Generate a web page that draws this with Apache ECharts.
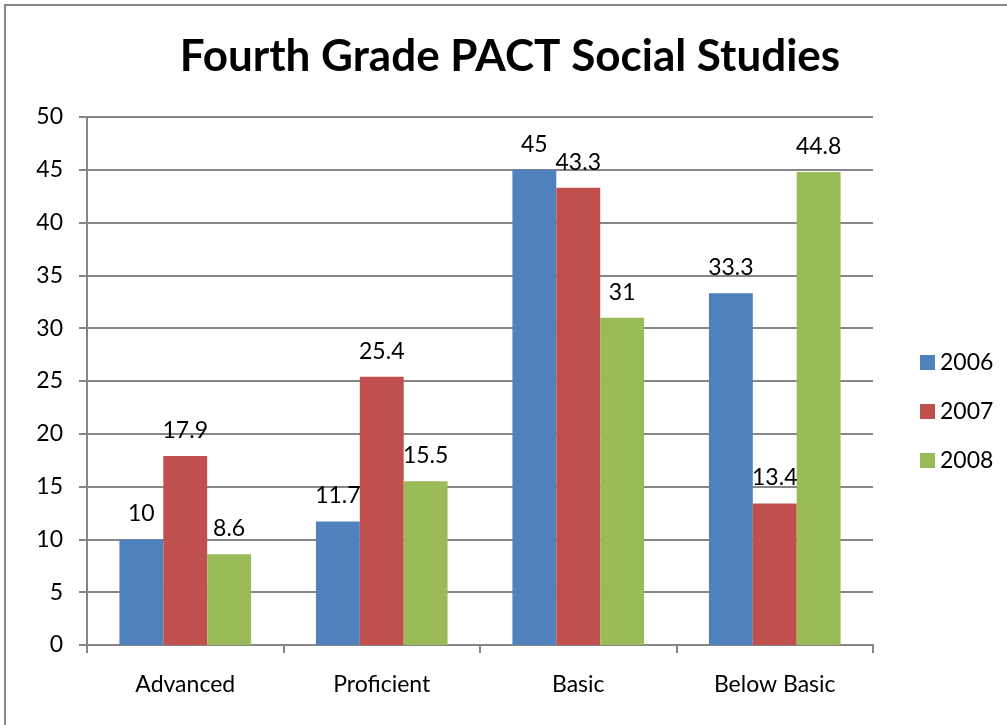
<!DOCTYPE html>
<html>
<head>
<meta charset="utf-8">
<script src="https://cdn.jsdelivr.net/npm/echarts@6/dist/echarts.min.js"></script>
<style>
  html, body { margin: 0; padding: 0; background: #fff; }
  #chart { width: 1007px; height: 725px; }
</style>
</head>
<body>
<div id="chart"></div>
<script>
// data
var categories = ['Advanced', 'Proficient', 'Basic', 'Below Basic'];
var years = ['2006', '2007', '2008'];
var values2006 = [10, 11.7, 45, 33.3];
var values2007 = [17.9, 25.4, 43.3, 13.4];
var values2008 = [8.6, 15.5, 31, 44.8];
var colors = ['#4F81BD', '#C0504D', '#9BBB59'];

var font = 'Lato, "Open Sans", sans-serif';

function barSeries(name, data, color) {
  return {
    name: name,
    type: 'bar',
    data: data,
    barGap: '0%',
    barCategoryGap: '33%',
    itemStyle: { color: color },
    label: {
      show: true,
      position: 'top',
      distance: 14,
      color: '#000',
      fontSize: 23,
      fontFamily: font
    }
  };
}

var chart = echarts.init(document.getElementById('chart'));
var option = {
  animation: false,
  backgroundColor: '#fff',
  color: colors,
  graphic: [{
    type: 'rect',
    shape: { x: 5, y: 5, width: 1020, height: 740 },
    style: { fill: 'none', stroke: '#888', lineWidth: 2 },
    silent: true
  }],
  title: {
    text: 'Fourth Grade PACT Social Studies',
    left: 505,
    top: 30,
    textAlign: 'center',
    textStyle: {
      fontSize: 44,
      fontWeight: 'bold',
      color: '#000',
      fontFamily: font
    }
  },
  legend: {
    orient: 'vertical',
    left: 915,
    top: 346,
    itemWidth: 15,
    itemHeight: 15,
    itemGap: 26,
    icon: 'rect',
    textStyle: { fontSize: 23, color: '#000', fontFamily: font }
  },
  grid: {
    left: 87,
    right: 134,
    top: 117,
    bottom: 80,
    containLabel: false
  },
  xAxis: {
    type: 'category',
    data: categories,
    axisLine: { lineStyle: { color: '#868686', width: 2 } },
    axisTick: { show: true, length: 8, lineStyle: { color: '#868686', width: 2 } },
    axisLabel: { margin: 28, fontSize: 23, color: '#000', fontFamily: font }
  },
  yAxis: {
    type: 'value',
    min: 0,
    max: 50,
    interval: 5,
    axisLine: { show: true, lineStyle: { color: '#868686', width: 2 } },
    axisTick: { show: true, length: 8, inside: false, lineStyle: { color: '#868686', width: 2 } },
    splitLine: { lineStyle: { color: '#868686', width: 2 } },
    axisLabel: { margin: 24, fontSize: 23, color: '#000', fontFamily: font }
  },
  series: [
    barSeries(years[0], values2006, colors[0]),
    barSeries(years[1], values2007, colors[1]),
    barSeries(years[2], values2008, colors[2])
  ]
};
chart.setOption(option);
</script>
</body>
</html>
